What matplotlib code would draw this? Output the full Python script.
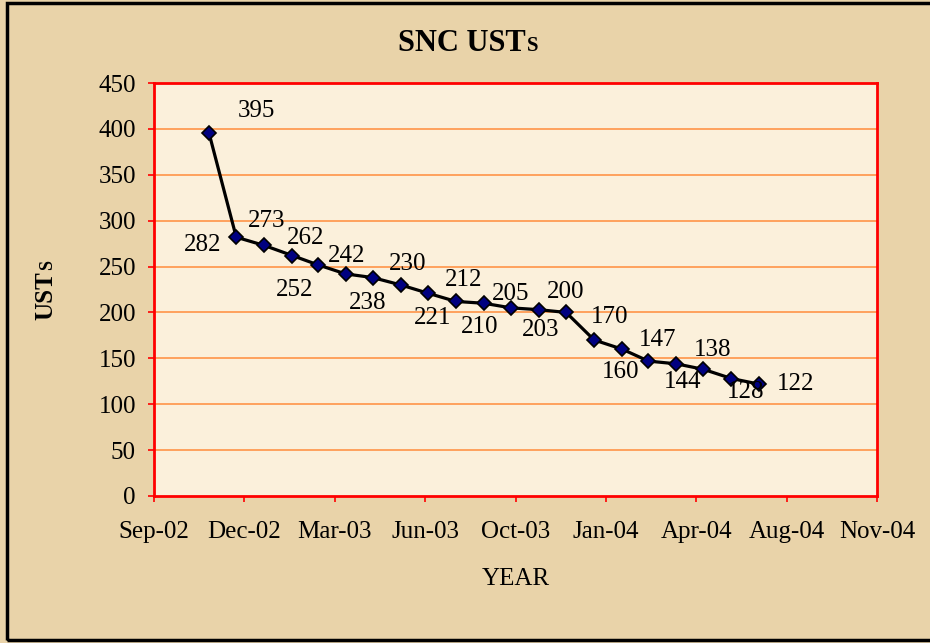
import matplotlib
matplotlib.use("Agg")
import matplotlib.pyplot as plt
import matplotlib.dates as mdates
from matplotlib.patches import Rectangle
import datetime as dt

# ---- data ----
months = ["2002-11", "2002-12", "2003-01", "2003-02", "2003-03", "2003-04", "2003-05",
          "2003-06", "2003-07", "2003-08", "2003-09", "2003-10", "2003-11", "2003-12",
          "2004-01", "2004-02", "2004-03", "2004-04", "2004-05", "2004-06", "2004-07"]
usts = [395, 282, 273, 262, 252, 242, 238, 230, 221, 212, 210, 205, 203, 200,
        170, 160, 147, 144, 138, 128, 122]
title_main = "SNC UST"
title_small = "S"
xlabel = "YEAR"
ylabel_main = "UST"
ylabel_small = "S"

# label offsets (pixels, right/down) relative to each point
label_offsets = [(47, -22), (-34, 8), (2, -24), (13, -18), (-23, 25), (1, -18), (-5, 25),
                 (7, -21), (5, 25), (8, -21), (-4, 24), (0, -14), (2, 20), (0, -20),
                 (15, -23), (-2, 23), (9, -21), (6, 18), (9, -19), (14, 13), (37, 0)]

dates = [dt.datetime.strptime(m + "-01", "%Y-%m-%d") for m in months]

plt.rcParams['font.family'] = ['Liberation Serif', 'DejaVu Serif']

W, H = 930, 643
fig = plt.figure(figsize=(W / 100, H / 100), dpi=100)
fig.patch.set_facecolor('#E9D3A9')

# outer black frame
fig.add_artist(Rectangle((7 / W, 1 - 640 / H), 1.0, (640 - 3) / H,
                         transform=fig.transFigure, fill=False,
                         edgecolor='black', linewidth=2.5))

ax = fig.add_axes([154 / W, 1 - 496 / H, (877 - 154) / W, (496 - 83) / H])
ax.set_facecolor('#FBF0DB')

x0 = dt.datetime(2002, 9, 1)
ticks = [x0 + dt.timedelta(days=100 * i) for i in range(9)]
ax.set_xlim(ticks[0], ticks[-1])
ax.set_ylim(0, 450)
ax.set_xticks(ticks)
ax.xaxis.set_major_formatter(mdates.DateFormatter('%b-%y'))
ax.set_yticks(range(0, 451, 50))

for v in range(50, 450, 50):
    ax.axhline(v, color='#FF9448', linewidth=1.2, zorder=1)

for s in ax.spines.values():
    s.set_color('#FF0000')
    s.set_linewidth(2)

ax.tick_params(axis='both', colors='#FF0000', labelcolor='black', labelsize=18,
               length=4, width=1.2, direction='out')
ax.tick_params(axis='x', pad=14)
ax.tick_params(axis='y', pad=9)

ax.plot(dates, usts, color='black', linewidth=2.3, marker='D', markersize=7,
        markerfacecolor='#000080', markeredgecolor='black', markeredgewidth=1.2, zorder=3)

for d, v, (ox, oy) in zip(dates, usts, label_offsets):
    ax.annotate(str(v), (d, v), xytext=(ox, -oy), textcoords='offset pixels',
                ha='center', va='center', fontsize=18, color='black', zorder=4)

renderer = fig.canvas.get_renderer()

# title with small-cap S
t1 = fig.text(398 / W, 1 - 51 / H, title_main, ha='left', va='baseline',
              fontsize=22, fontweight='bold')
bb = t1.get_window_extent(renderer)
fig.text((bb.x1 + 1) / W, 1 - 51 / H, title_small, ha='left', va='baseline',
         fontsize=15, fontweight='bold')

# y label with small-cap S (rotated, reading bottom-to-top)
yl = fig.text(52 / W, 1 - 320 / H, ylabel_main, ha='left', va='baseline',
              fontsize=18, fontweight='bold', rotation=90, rotation_mode='anchor')
bb2 = yl.get_window_extent(renderer)
fig.text(52 / W, (bb2.y1 + 1) / H, ylabel_small, ha='left', va='baseline',
         fontsize=13, fontweight='bold', rotation=90, rotation_mode='anchor')

fig.text(516 / W, 1 - 579 / H, xlabel, ha='center', va='center', fontsize=18)

fig.savefig('out.png', dpi=100, facecolor=fig.get_facecolor())
